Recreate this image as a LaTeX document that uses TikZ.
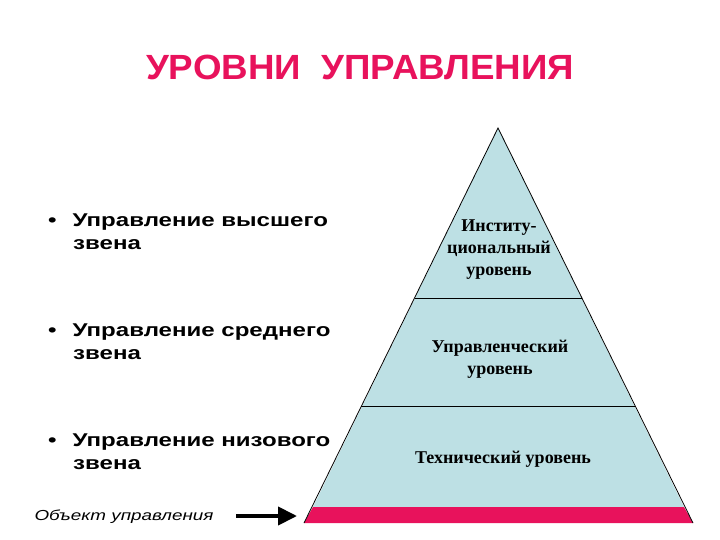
\documentclass[tikz,border=0pt]{standalone}
\usepackage{fontspec}
\setmainfont{Liberation Serif}
\setsansfont{Liberation Sans}
\newfontfamily\widesans[FakeStretch=1.3]{Liberation Sans}
\newfontfamily\titlesans[FakeStretch=1.05]{Liberation Sans}
\usetikzlibrary{arrows.meta}
\definecolor{crimson}{RGB}{232,18,92}
\definecolor{pyrcyan}{RGB}{189,224,228}
\tikzset{
  title/.style={font=\titlesans\bfseries\fontsize{35}{38}\selectfont, text=crimson},
  bul/.style={font=\widesans\bfseries\fontsize{18.5}{23}\selectfont, anchor=north west, align=left, inner sep=0pt},
  lvl/.style={font=\rmfamily\bfseries\fontsize{18}{22}\selectfont, align=center},
}
\begin{document}
\begin{tikzpicture}[x=1pt,y=-1pt]
\useasboundingbox (0,0) rectangle (720,540);
% pyramid
\coordinate (apex) at (498,128);
\coordinate (bl) at (313,507);
\coordinate (br) at (684,507);
\fill[pyrcyan] (apex) -- (bl) -- (br) -- cycle;
\fill[crimson] (313,507) -- (684,507) -- (693,523) -- (304,523) -- cycle;
\draw[line width=0.8pt] (304,523) -- (apex) -- (693,523);
\draw[line width=0.8pt] (415,298) -- (582,298);
\draw[line width=0.8pt] (361,406) -- (636,406);
% title
\node[title] (t) at (360,67) {УРОВНИ\ \ УПРАВЛЕНИЯ};
% level texts
\node[lvl] (l1) at (499,250) {Институ-\\циональный\\уровень};
\node[lvl] (l2) at (500,359) {Управленческий\\уровень};
\node[lvl] (l3) at (503,459) {Технический уровень};
% bullets
\node[bul] (b1) at (48,214) {•\hspace{16pt}Управление высшего\\\hspace{25pt}звена};
\node[bul] (b2) at (48,324) {•\hspace{16pt}Управление среднего\\\hspace{25pt}звена};
\node[bul] (b3) at (48,434) {•\hspace{16pt}Управление низового\\\hspace{25pt}звена};
% object
\node[font=\widesans\itshape\fontsize{14.5}{16}\selectfont, anchor=west] (obj) at (31,517) {Объект управления};
\coordinate (ae) at (297,516);
\draw[line width=4pt, -{Triangle[length=19pt,width=18pt]}] (236,516) -- (ae);
\end{tikzpicture}
\end{document}
